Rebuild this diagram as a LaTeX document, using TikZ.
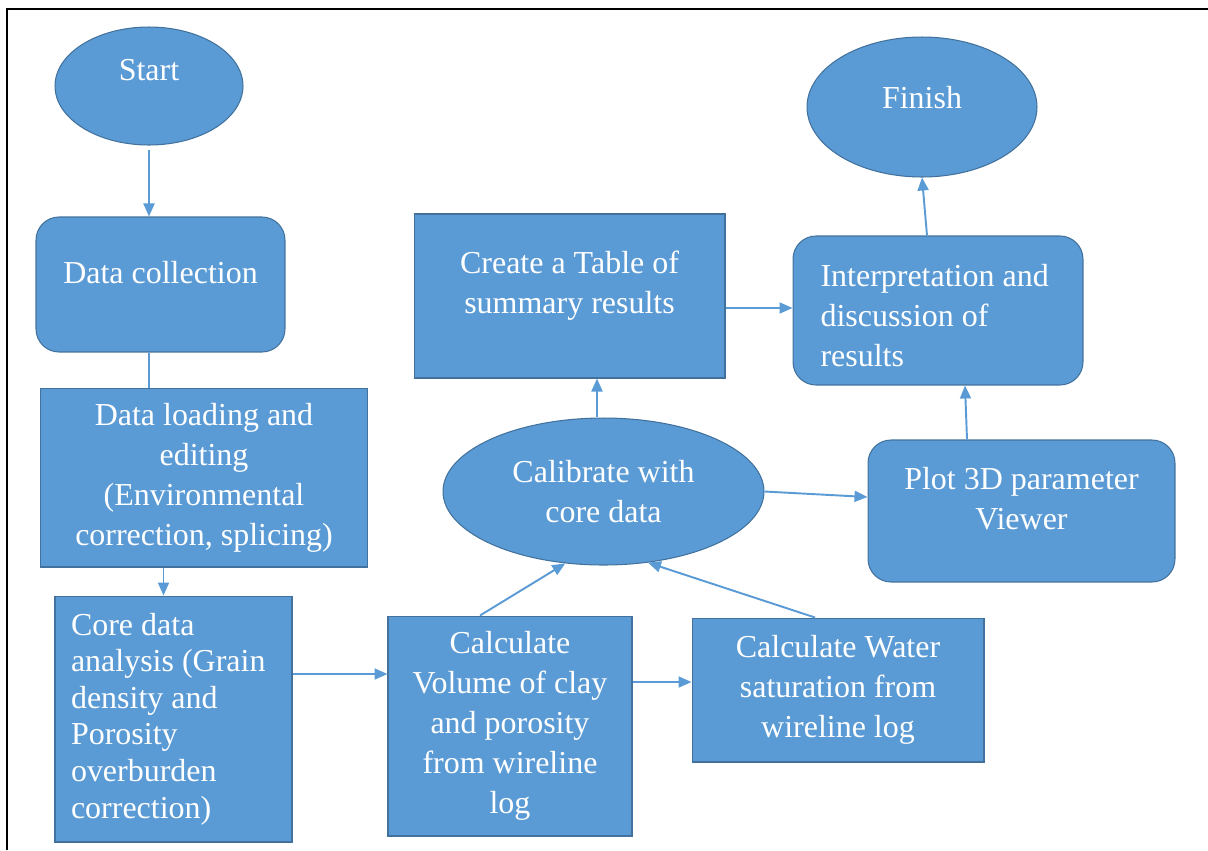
\documentclass[tikz,border=0pt]{standalone}
\usepackage{fontspec}
\setmainfont{Liberation Serif}
\usetikzlibrary{arrows.meta,shapes.geometric}
\definecolor{flowblue}{HTML}{5B9BD5}
\definecolor{flowedge}{HTML}{41719C}

\begin{document}
\begin{tikzpicture}[x=0.02cm, y=-0.02cm,
  every node/.style={font=\fontsize{18.2}{22.8}\selectfont, text=white},
  blk/.style={rectangle, draw=flowedge, line width=0.6pt, fill=flowblue, align=center},
  rnd/.style={blk, rounded corners=0.46cm},
  oval/.style={ellipse, draw=flowedge, line width=0.6pt, fill=flowblue, align=center},
  arr/.style={draw=flowblue, line width=1.1pt, -{Triangle[length=0.26cm,width=0.22cm]}},
  link/.style={draw=flowblue, line width=1.1pt}]
\useasboundingbox (0,0) rectangle (1208,850);
\draw[line width=1.2pt] (7,850) -- (7,9) -- (1208,9);

\node[oval, minimum width=3.76cm, minimum height=2.36cm, text depth=0.64cm] (start) at (149,86) {Start};
\node[oval, minimum width=4.6cm, minimum height=2.8cm, text depth=0.4cm] (finish) at (922,107) {Finish};
\node[rnd, minimum width=4.98cm, minimum height=2.7cm, text depth=0.48cm] (collect) at (160.5,284.5) {Data collection};
\node[blk, minimum width=6.56cm, minimum height=3.58cm] (load) at (204,477.5) {Data loading and\\editing\\(Environmental\\correction, splicing)};
\node[blk, minimum width=4.74cm, minimum height=4.92cm, text width=4.1cm, align=flush left, font=\fontsize{18.2}{20.8}\selectfont] (core) at (173.5,719) {Core data\\analysis (Grain\\density and\\Porosity\\overburden\\correction)};
\node[blk, minimum width=4.88cm, minimum height=4.4cm] (vol) at (510,726) {Calculate\\Volume of clay\\and porosity\\from wireline\\log};
\node[blk, minimum width=5.84cm, minimum height=2.88cm] (water) at (838,690) {Calculate Water\\saturation from\\wireline log};
\node[oval, minimum width=6.42cm, minimum height=2.94cm] (calib) at (603.5,491.5) {Calibrate with\\core data};
\node[blk, minimum width=6.22cm, minimum height=3.28cm, text width=5.4cm, align=flush center, text depth=1.34cm] (table) at (569.5,296) {Create a Table of\\summary results};
\node[rnd, minimum width=5.8cm, minimum height=2.98cm, text width=4.7cm, align=flush left, text depth=1.4cm] (interp) at (938,310.5) {Interpretation and\\discussion of\\results};
\node[rnd, minimum width=6.14cm, minimum height=2.84cm, text width=5.4cm, align=flush center, text depth=1.32cm] (plot) at (1021.5,511) {Plot 3D parameter\\Viewer};

\draw[arr, shorten <=0.08cm] (start.south) -- (start.south |- collect.north);
\draw[link] (collect.south -| start.south) -- (start.south |- load.north);
\draw[arr] ([xshift=-0.2cm]core.north |- load.south) -- ([xshift=-0.2cm]core.north);
\draw[arr] ([yshift=0.9cm]core.east) -- ([yshift=0.9cm]core.east -| vol.west);
\draw[arr] ([yshift=0.88cm]vol.east) -- ([yshift=0.88cm]vol.east -| water.west);
\draw[arr] ([xshift=-0.6cm]vol.north) -- (calib.242);
\draw[arr] ([xshift=-0.46cm]water.north) -- (calib.302);
\draw[arr] ([xshift=-0.13cm]calib.north) -- ([xshift=-0.13cm]calib.north |- table.south);
\draw[arr] ([yshift=-0.24cm]table.east) -- ([yshift=-0.24cm]table.east -| interp.west);
\draw[arr] ([xshift=-0.22cm]interp.north) -- (finish.south);
\draw[arr] ([xshift=-1.09cm]plot.north) -- ([xshift=0.54cm]interp.south);
\draw[arr] (calib.east) -- ([yshift=0.28cm]plot.west);
\end{tikzpicture}
\end{document}
